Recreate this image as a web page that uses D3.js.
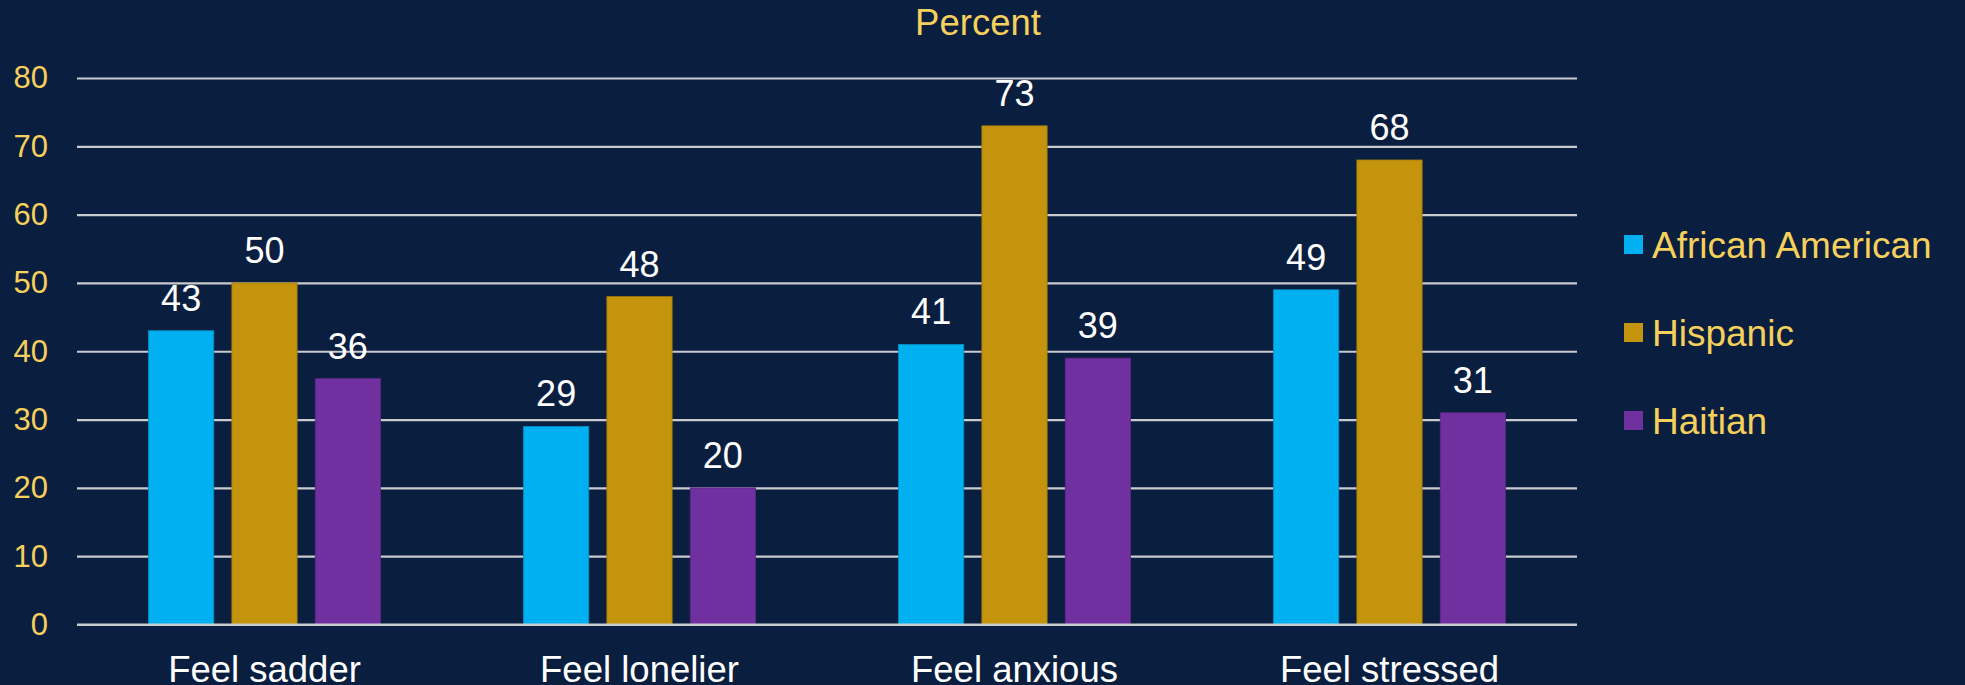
<!DOCTYPE html>
<html>
<head>
<meta charset="utf-8">
<script src="https://cdn.jsdelivr.net/npm/d3@7"></script>
<style>
  html, body { margin: 0; padding: 0; background: #0A1F3F; }
  svg { display: block; }
  text { font-family: "Liberation Sans", Arial, sans-serif; }
</style>
</head>
<body>
<svg id="chart" width="1965" height="685"></svg>
<script>
// Survey results by group
const categories = ["Feel sadder", "Feel lonelier", "Feel anxious", "Feel stressed"];
const seriesNames = ["African American", "Hispanic", "Haitian"];
const africanAmerican = [43, 29, 41, 49];
const hispanic = [50, 48, 73, 68];
const haitian = [36, 20, 39, 31];
const yTicks = [0, 10, 20, 30, 40, 50, 60, 70, 80];
const axisTitle = "Percent";

const seriesValues = [africanAmerican, hispanic, haitian];
const colors = ["#00B0F0", "#C4940D", "#7030A0"];
const textYellow = "#F6D05C";

const W = 1965, H = 685;
const margin = { left: 77, right: 388, top: 78, bottom: 60.5 };
const plotW = W - margin.left - margin.right;   // 1500
const plotH = H - margin.top - margin.bottom;

const svg = d3.select("#chart");
svg.append("rect").attr("width", W).attr("height", H).attr("fill", "#0A1F3F");

const g = svg.append("g").attr("transform", `translate(${margin.left},${margin.top})`);

const x0 = d3.scaleBand().domain(categories).range([0, plotW]).paddingInner(0).paddingOuter(0);
const x1 = d3.scaleBand().domain(seriesNames).range([71.5, x0.bandwidth() - 71.5]).paddingInner(0.217).paddingOuter(0);
const y = d3.scaleLinear().domain([0, 80]).range([plotH, 0]);

// gridlines
const yAxis = d3.axisLeft(y).tickValues(yTicks).tickSize(-plotW).tickPadding(29).tickFormat(d3.format("d"));
const ya = g.append("g").call(yAxis);
ya.select(".domain").remove();
ya.selectAll(".tick line").attr("stroke", "#C9CBCF").attr("stroke-width", 2.2);
ya.selectAll(".tick text").attr("fill", textYellow).attr("font-size", 31);

// bars
const groups = g.selectAll(".grp").data(categories).join("g")
  .attr("transform", d => `translate(${x0(d)},0)`);

groups.each(function(cat, ci) {
  const gg = d3.select(this);
  seriesNames.forEach((s, si) => {
    const v = seriesValues[si][ci];
    gg.append("rect")
      .attr("x", x1(s))
      .attr("y", y(v))
      .attr("width", x1.bandwidth())
      .attr("height", y(0) - y(v))
      .attr("fill", colors[si])
      .attr("stroke", d3.color(colors[si]).darker(0.6))
      .attr("stroke-width", 0.8);
  });
});

// baseline drawn over bars
g.append("line").attr("x1", 0).attr("x2", plotW).attr("y1", y(0)).attr("y2", y(0))
  .attr("stroke", "#C9CBCF").attr("stroke-width", 2.2);

// value labels
groups.each(function(cat, ci) {
  const gg = d3.select(this);
  seriesNames.forEach((s, si) => {
    const v = seriesValues[si][ci];
    gg.append("text")
      .attr("x", x1(s) + x1.bandwidth() / 2)
      .attr("y", y(v) - 20)
      .attr("text-anchor", "middle")
      .attr("fill", "#FFFFFF")
      .attr("font-size", 36)
      .text(v);
  });
});

// category labels
g.selectAll(".cat").data(categories).join("text")
  .attr("x", d => x0(d) + x0.bandwidth() / 2)
  .attr("y", plotH + 57)
  .attr("text-anchor", "middle")
  .attr("fill", "#FFFFFF")
  .attr("font-size", 36.5)
  .text(d => d);

// axis title
svg.append("text")
  .attr("x", 978).attr("y", 35)
  .attr("text-anchor", "middle")
  .attr("fill", textYellow)
  .attr("font-size", 36.5)
  .text(axisTitle);

// legend
const legend = svg.append("g").attr("transform", "translate(1624,235)");
seriesNames.forEach((s, i) => {
  const row = legend.append("g").attr("transform", `translate(0,${i * 88})`);
  row.append("rect").attr("width", 19).attr("height", 19).attr("fill", colors[i]);
  row.append("text").attr("x", 28).attr("y", 23)
    .attr("fill", textYellow).attr("font-size", 37).text(s);
});
</script>
</body>
</html>
